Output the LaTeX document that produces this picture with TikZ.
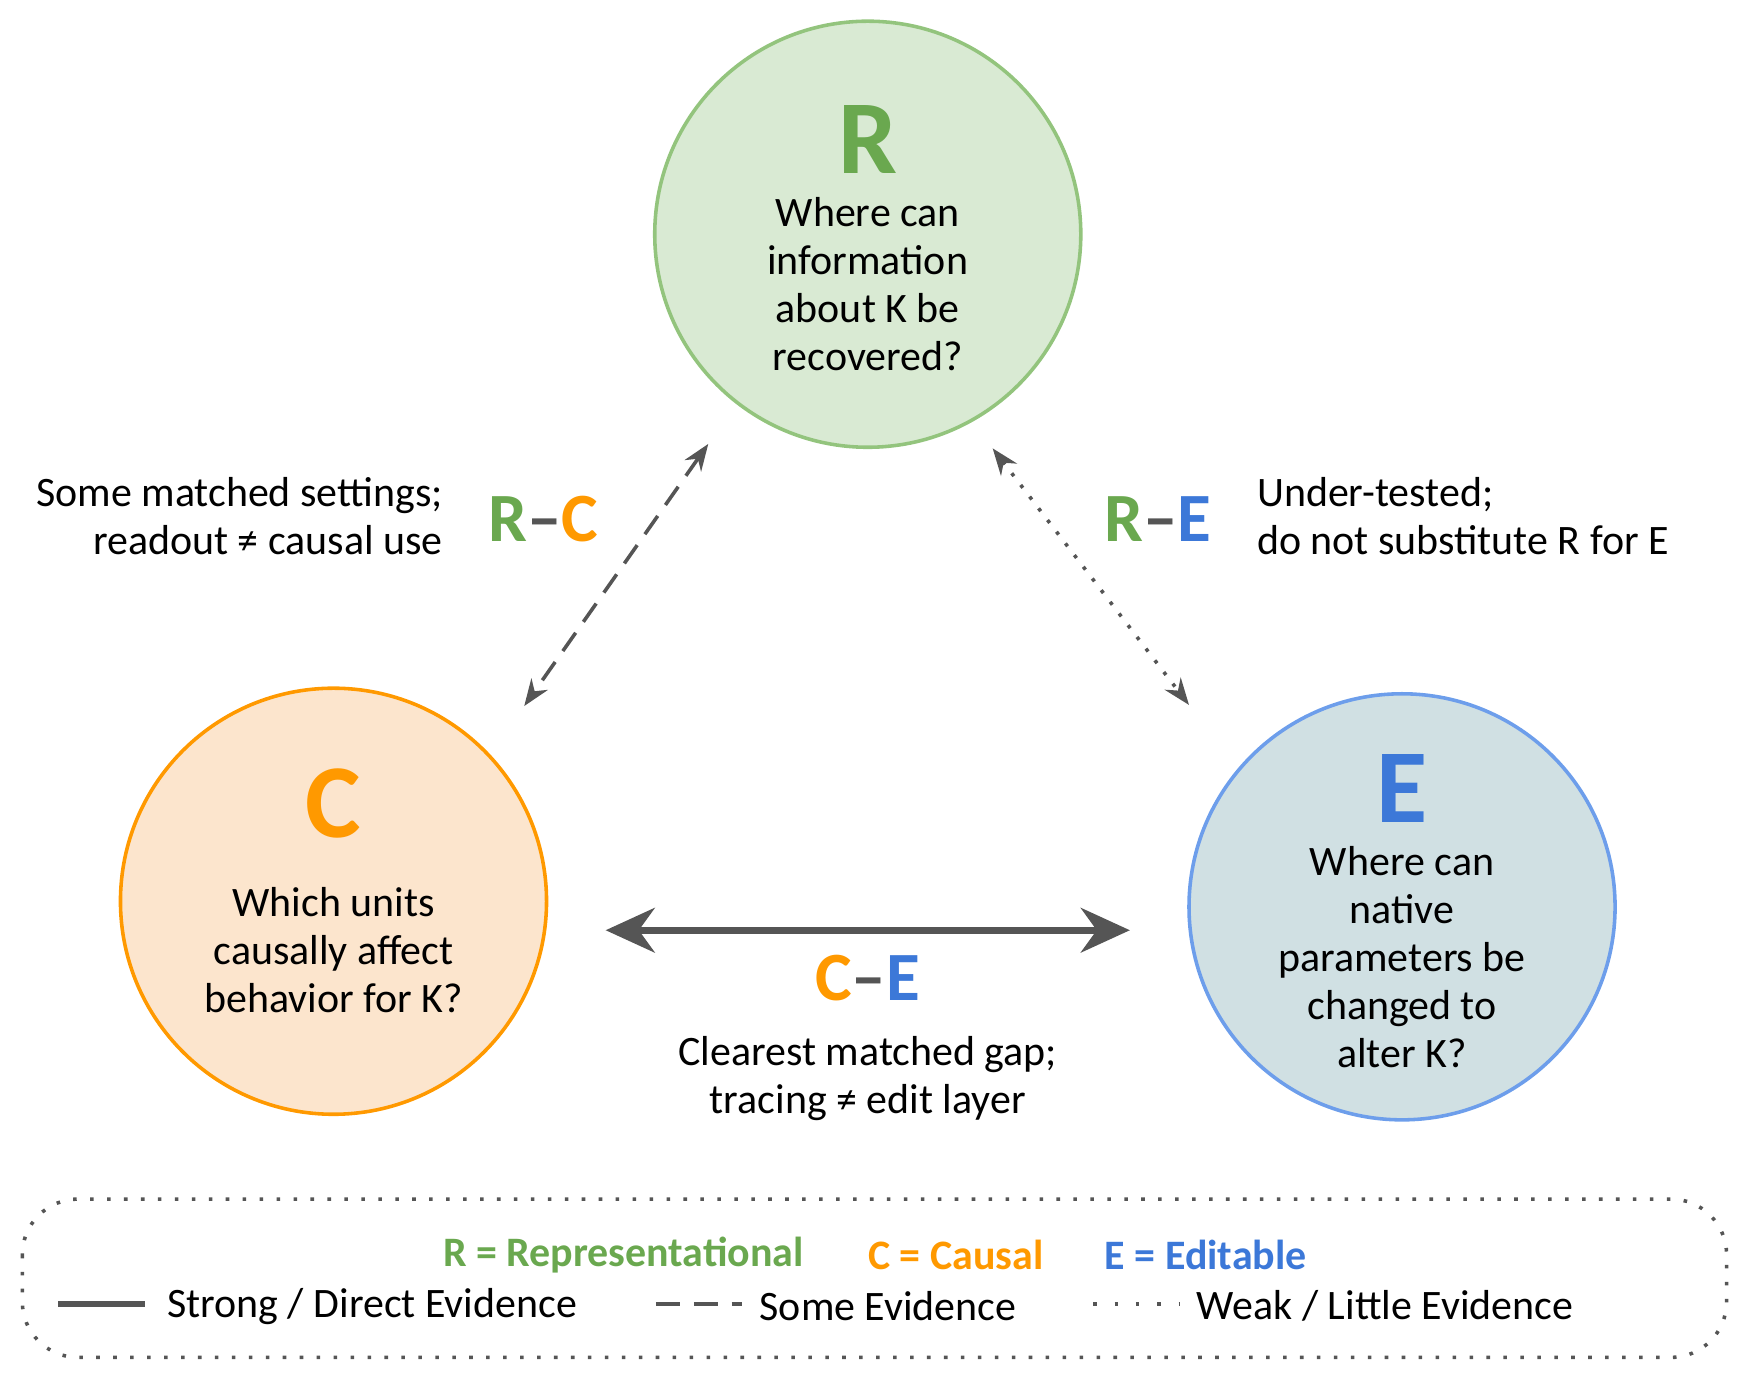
\documentclass[tikz,border=0pt]{standalone}
\usepackage{fontspec}
\setmainfont{Carlito}
\usetikzlibrary{arrows.meta}
\definecolor{rg}{HTML}{6AA84F}\definecolor{rf}{HTML}{D9EAD3}\definecolor{rb}{HTML}{93C47D}
\definecolor{cg}{HTML}{FF9900}\definecolor{cf}{HTML}{FCE5CD}
\definecolor{eg}{HTML}{3C78D8}\definecolor{ef}{HTML}{D0E0E3}\definecolor{eb}{HTML}{6D9EEB}
\definecolor{ln}{HTML}{555555}
\begin{document}
\begin{tikzpicture}[x=0.5pt,y=-0.5pt,
  circ/.style={circle,minimum size=191pt,line width=1.6pt,inner sep=0},
  big/.style={font=\fontsize{47}{47}\selectfont\bfseries},
  body/.style={font=\fontsize{18.8}{21.5}\selectfont,align=center},
  pair/.style={font=\fontsize{31}{31}\selectfont\bfseries},
  arr/.style={color=ln,line width=1.6pt,{Stealth[length=12pt,width=9pt]}-{Stealth[length=12pt,width=9pt]}}]
\useasboundingbox (0,0) rectangle (1560,1232);
\node[circ,draw=rb,fill=rf] (R) at (778,210) {};
\node[circ,draw=cg,fill=cf] (C) at (299,808) {};
\node[circ,draw=eb,fill=ef] (E) at (1257,813) {};
\node[big,text=rg] (Rl) at (778,125) {R};
\node[big,text=cg] (Cl) at (299,720) {C};
\node[big,text=eg] (El) at (1257,707) {E};
\node[body] (Rt) at (778,255) {Where can\\information\\about K be\\recovered?};
\node[body] (Ct) at (299,852) {Which units\\causally affect\\behavior for K?};
\node[body] (Et) at (1257,858) {Where can\\native\\parameters be\\changed to\\alter K?};
\coordinate (a1) at (635,398); \coordinate (a2) at (470,633);
\coordinate (b1) at (890,402); \coordinate (b2) at (1066,632);
\coordinate (c1) at (543,834); \coordinate (c2) at (1013,834);
\draw[arr,dashed,dash pattern=on 10pt off 6pt] (a1) -- (a2);
\draw[arr,dash pattern=on 1.6pt off 5pt] (b1) -- (b2);
\draw[color=ln,line width=3pt,{Stealth[length=22pt,width=20pt]}-{Stealth[length=22pt,width=20pt]}] (c1) -- (c2);
\node[pair] (RC) at (487,465) {\textcolor{rg}{R}\textcolor{ln}{–}\textcolor{cg}{C}};
\node[pair] (RE) at (1038,465) {\textcolor{rg}{R}\textcolor{ln}{–}\textcolor{eg}{E}};
\node[pair] (CE) at (778,877) {\textcolor{cg}{C}\textcolor{ln}{–}\textcolor{eg}{E}};
\node[body,align=right,anchor=east] (RCt) at (404,463) {Some matched settings;\\readout ≠ causal use};
\node[body,align=left,anchor=west] (REt) at (1120,463) {Under-tested;\\do not substitute R for E};
\node[body] (CEt) at (778,967) {Clearest matched gap;\\tracing ≠ edit layer};
\draw[color=ln,line width=1.6pt,dash pattern=on 1.6pt off 6pt,rounded corners=25] (20,1075) rectangle (1548,1217);
\node[font=\fontsize{18.8}{18.8}\selectfont\bfseries,text=rg] (L1) at (559,1125) {R = Representational};
\node[font=\fontsize{18.8}{18.8}\selectfont\bfseries,text=cg] (L2) at (857,1125) {C = Causal};
\node[font=\fontsize{18.8}{18.8}\selectfont\bfseries,text=eg] (L3) at (1081,1125) {E = Editable};
\draw[color=ln,line width=3pt] (52,1169) -- (130,1169);
\draw[color=ln,line width=2pt,dash pattern=on 11pt off 6pt] (588,1169) -- (665,1169);
\draw[color=ln,line width=1.6pt,dash pattern=on 1.6pt off 8pt] (980,1169) -- (1058,1169);
\node[body,anchor=west] (T1) at (143,1171) {Strong / Direct Evidence};
\node[body,anchor=west] (T2) at (674,1171) {Some Evidence};
\node[body,anchor=west] (T3) at (1066,1171) {Weak / Little Evidence};
\end{tikzpicture}
\end{document}
